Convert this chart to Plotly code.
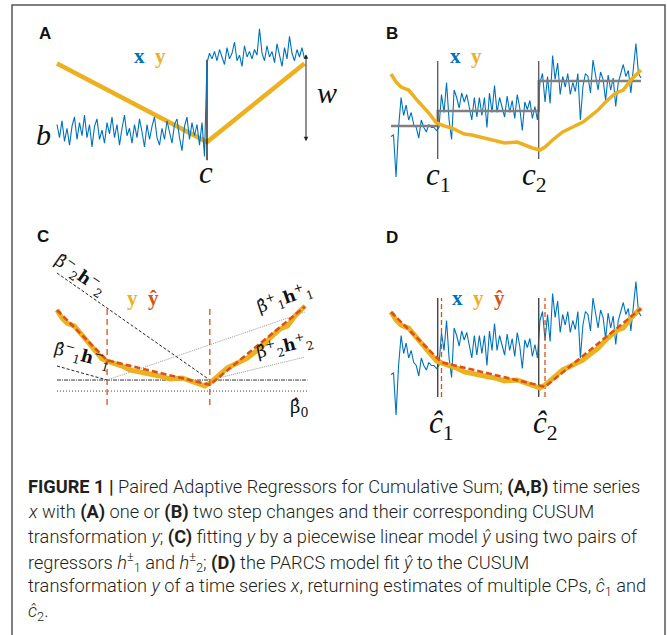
import plotly.graph_objects as go

W, H = 667, 635
BLUE = "#0072BD"
ORANGE = "#EDB120"
RED = "#D95319"
STEP_GRAY = "#808080"
SERIF = "Liberation Serif, DejaVu Serif, serif"
MATH = "DejaVu Serif, Liberation Serif, serif"
SANS = "Liberation Sans, Arial, sans-serif"
CAP_FONT = "Roboto, Liberation Sans, sans-serif"

# ---------------- data ----------------
# Panel A: series x with one step change, and its CUSUM y
xA_before = [0.4, -0.3, 0.6, -0.5, 0.2, -0.7, 0.3, 0.8, -0.4, 0.5,
             -0.2, 0.9, -0.3, 0.4, -0.8, 0.3, 0.7, -0.4, 0.1, -0.6,
             0.5, -0.1, 0.8, -0.3, 0.4, -0.7, 0.2, 0.9, -0.2, 0.2,
             -0.6, 0.4, -0.3, 0.7, 0.0, -0.8, 0.4, -0.4, 0.3, 0.8,
             -0.3, -0.7, 0.2, -0.4, 0.6, 0.0, -0.6, 0.4, 0.7, -0.3,
             -1.0, 0.3, 0.8, -0.4, 0.5, -0.2, 0.4, -0.7, 0.5, -1.3]
xA_after = [3.7, 4.2, 3.9, 4.3, 3.8, 4.4, 4.0, 3.6, 4.5, 3.9,
            4.2, 4.8, 3.8, 4.1, 3.5, 4.6, 4.0, 4.3, 3.9, 4.4,
            4.1, 5.5, 4.2, 3.8, 4.6, 4.0, 4.3, 3.7, 4.7, 4.1,
            3.5, 4.5, 3.9, 5.1, 4.2, 3.8, 4.4, 4.0, 4.5, 3.9]
cA = 60
yA_t = [0, 60, 99]
yA = [0, -96, 0]

# Panels B / D: series x with two step changes, and its CUSUM y
xB_seg1 = [-0.7, -0.6, -3.4, -0.1, 1.9, 0.7, 1.4, 0.4, 0.9, 0.1,
           -0.1, -0.8, 0.4, -0.1, -0.4, 0.1, -0.1, -0.1, -0.3]
xB_seg2 = [-0.1, 2.1, 0.9, 2.9, 0.4, -0.9, 2.4, 1.9, 1.2, 2.2,
           1.6, 2.1, 1.3, 0.4, 1.9, 0.6, 1.9, 0.7, 1.9, -0.1,
           2.2, 0.9, 2.7, 0.9, 1.9, 1.3, 0.6, 2.0, 0.9, 1.7,
           0.5, 2.1, 1.2, -0.3, 1.6, 1.1, 1.7, 0.5, 1.3, 0.4]
xB_seg3 = [2.9, 3.5, 1.6, 3.3, 1.5, 4.7, 3.1, 4.2, 2.1, 3.3,
           2.6, 3.5, 2.1, 2.9, 2.3, 3.5, 0.4, 2.6, 3.5, 3.3,
           2.2, 4.4, 3.3, 2.4, 3.6, 3.1, 1.7, 3.4, 2.4, 3.2,
           1.3, 2.9, 3.5, 4.1, 3.3, 3.7, 2.2, 4.0, 5.5, 3.5, 3.2]
cB = [18.5, 58.5]
step_t = [0, 18.5, 58.5, 99]
step_levels = [0, 1, 3, 3]
yB_t = [0, 2, 4, 7, 11, 15, 18, 21, 24, 26, 29, 32, 37, 41, 45, 50,
        53, 56, 59, 61, 64, 68, 72, 76, 78, 82, 85, 89, 92, 95, 99]
yB = [0, -5.9, -9.6, -11.8, -20.6, -28.7, -36, -38.2, -39.7, -41.2,
      -44.1, -44.9, -47.1, -48.5, -50.7, -50, -52.2, -54.4, -55.9, -53.7,
      -48.5, -42.6, -39, -35.3, -32.4, -26.5, -20.6, -14, -11.8, -4.4, 2.9]

# Panels C / D: piecewise linear fit and its regressors
c_hat = [20, 61]
yhat_t = [0, 20, 61, 99]
yhat = [0, -37, -55, 2.5]
beta0 = -51.5
lower_level = -59.6
reg_h1_minus = [-41.2, -51.5]   # t from 0 to c_hat[0]
reg_h2_minus = [27.2, -51.5]    # t from 0 to c_hat[1]
reg_h1_plus = [-51.5, -1.5]     # t from c_hat[0] to end
reg_h2_plus = [-51.5, -34.6]    # t from c_hat[1] to end

xA = xA_before + xA_after
xB = xB_seg1 + xB_seg2 + xB_seg3
tA = list(range(len(xA)))
tB = list(range(len(xB)))
t_end = tB[-1]


# ---------------- axes geometry (pixel calibration) ----------------
def xcfg(box, cal, anchor):
    L, R, T, B = box
    a, b = cal
    return dict(domain=[L / W, R / W], range=[(L - a) / b, (R - a) / b],
                anchor=anchor, visible=False, showgrid=False, zeroline=False, fixedrange=True)


def ycfg(box, cal, anchor, overlaying=None):
    L, R, T, B = box
    c, d = cal
    cfg = dict(range=[(c - B) / d, (c - T) / d], anchor=anchor,
               visible=False, showgrid=False, zeroline=False, fixedrange=True)
    if overlaying:
        cfg["overlaying"] = overlaying
    else:
        cfg["domain"] = [1 - B / H, 1 - T / H]
    return cfg


boxA = (15, 340, 10, 210)
boxB = (345, 662, 10, 210)
boxC = (15, 340, 215, 445)
boxD = (345, 662, 215, 445)

axes = {
    "xaxis": xcfg(boxA, (57.0, 2.5), "y"),
    "yaxis": ycfg(boxA, (63.5, 0.818), "x"),
    "yaxis2": ycfg(boxA, (132.0, 18.75), "x", overlaying="y"),
    "xaxis2": xcfg(boxB, (391.0, 2.525), "y3"),
    "yaxis3": ycfg(boxB, (126.0, 15.0), "x2"),
    "yaxis4": ycfg(boxB, (74.0, 1.36), "x2", overlaying="y3"),
    "xaxis3": xcfg(boxC, (57.0, 2.505), "y5"),
    "yaxis5": ycfg(boxC, (310.0, 1.36), "x3"),
    "xaxis4": xcfg(boxD, (391.0, 2.525), "y6"),
    "yaxis6": ycfg(boxD, (364.0, 15.0), "x4"),
    "yaxis7": ycfg(boxD, (312.0, 1.36), "x4", overlaying="y6"),
}

fig = go.Figure()


def line(x, y, xa, ya, color, width, dash="solid", shape="linear"):
    fig.add_trace(go.Scatter(x=x, y=y, xaxis=xa, yaxis=ya, mode="lines",
                             line=dict(color=color, width=width, dash=dash, shape=shape),
                             hoverinfo="skip", showlegend=False))


# ---- Panel A ----
line(yA_t, yA, "x", "y", ORANGE, 4.5)
line([cA, cA], [-1.5, 3.85], "x", "y2", "#222222", 1.4)
line(tA, xA, "x", "y2", BLUE, 1.1)

# ---- Panel B ----
line(tB, xB, "x2", "y3", BLUE, 1.1)
line(step_t, step_levels, "x2", "y3", STEP_GRAY, 2.4, shape="hv")
for c in cB:
    line([c, c], [-2.2, 4.33], "x2", "y3", "#555555", 1.3)
line(yB_t, yB, "x2", "y4", ORANGE, 3.5)

# ---- Panel C ----
line([0, t_end + 1], [beta0, beta0], "x3", "y5", "#333333", 1.0, dash="4px,1px,1px,1px")
line([0, t_end + 1], [lower_level, lower_level], "x3", "y5", "#444444", 1.0, dash="1px,2px")
line([0, c_hat[1]], reg_h2_minus, "x3", "y5", "#222222", 1.0, dash="3px,2px")
line([0, c_hat[0]], reg_h1_minus, "x3", "y5", "#222222", 1.0, dash="3px,2px")
line([c_hat[0], t_end], reg_h1_plus, "x3", "y5", "#9a9a9a", 1.0, dash="1px,1px")
line([c_hat[1], t_end], reg_h2_plus, "x3", "y5", "#9a9a9a", 1.0, dash="1px,1px")
line(yB_t, yB, "x3", "y5", ORANGE, 5)
line(yhat_t, yhat, "x3", "y5", RED, 2.6, dash="6px,3px")
for c in c_hat:
    line([c, c], [-69.9, 2.2], "x3", "y5", RED, 1.3, dash="6px,4px")

# ---- Panel D ----
line(tB, xB, "x4", "y6", BLUE, 1.1)
for c in cB:
    line([c, c], [-2.2, 4.4], "x4", "y6", "#444444", 1.4)
for c in c_hat:
    line([c, c], [-2.2, 4.4], "x4", "y6", RED, 1.3, dash="5px,3px")
line(yB_t, yB, "x4", "y7", ORANGE, 5)
line(yhat_t, yhat, "x4", "y7", RED, 2.6, dash="6px,3px")

# ---------------- annotations ----------------
anns = []


def P(xp, yp):
    return xp / W, 1 - yp / H


def txt(text, xp, yp, size, family=SERIF, color="#111111", angle=0, xanchor="center", weight=None):
    x, y = P(xp, yp)
    f = dict(family=family, size=size, color=color)
    if weight:
        f["weight"] = weight
    anns.append(dict(text=text, x=x, y=y, xref="paper", yref="paper", showarrow=False,
                     xanchor=xanchor, yanchor="middle", textangle=angle, font=f))


def col(t, c):
    return f"<span style='color:{c}'>{t}</span>"


BH = "β\u0302"  # beta with hat

for letter, (xp, yp) in {"A": (45, 33), "B": (392, 33), "C": (43, 236), "D": (392, 237)}.items():
    txt(f"<b>{letter}</b>", xp, yp, 17, family=SANS, color="#111111")

# A
txt("<b>" + col("x", BLUE) + "  " + col("y", ORANGE) + "</b>", 150, 56, 21)
txt("<i>b</i>", 43, 134, 30)
txt("<i>c</i>", 206, 172, 31)
txt("<i>w</i>", 327, 93, 30)
anns.append(dict(x=99.6, y=-95, xref="x", yref="y", ax=99.6, ay=13, axref="x", ayref="y",
                 text="", showarrow=True, arrowhead=2, arrowsize=0.9, arrowwidth=1,
                 arrowside="end+start", arrowcolor="#222222"))

# B
txt("<b>" + col("x", BLUE) + "  " + col("y", ORANGE) + "</b>", 466, 56, 21)
txt("<i>c</i><sub>1</sub>", 438, 177, 31)
txt("<i>c</i><sub>2</sub>", 534, 177, 31)

# C
txt("<b>" + col("y", ORANGE) + "  " + col("ŷ", RED) + "</b>", 143, 298, 21)
txt(f"{BH}<sup>−</sup><sub>2</sub><b>h</b><sup>−</sup><sub>2</sub>", 80, 274, 17, family=MATH, angle=35)
txt(f"{BH}<sup>−</sup><sub>1</sub><b>h</b><sup>−</sup><sub>1</sub>", 82, 355, 17, family=MATH, angle=15)
txt(f"{BH}<sup>+</sup><sub>1</sub><b>h</b><sup>+</sup><sub>1</sub>", 284, 298, 17, family=MATH, angle=-19)
txt(f"{BH}<sup>+</sup><sub>2</sub><b>h</b><sup>+</sup><sub>2</sub>", 284, 346, 17, family=MATH, angle=-13)
txt(f"{BH}<sub>0</sub>", 299, 408, 18, family=MATH)

# D
txt("<b>" + col("x", BLUE) + "  " + col("y", ORANGE) + "  " + col("ŷ", RED) + "</b>", 478, 298, 21)
txt("<i>ĉ</i><sub>1</sub>", 441, 425, 31)
txt("<i>ĉ</i><sub>2</sub>", 545, 425, 31)

# caption
caption = [
    "<b>FIGURE 1 |</b> Paired Adaptive Regressors for Cumulative Sum; <b>(A,B)</b> time series",
    "<i>x</i> with <b>(A)</b> one or <b>(B)</b> two step changes and their corresponding CUSUM",
    "transformation <i>y</i>; <b>(C)</b> fitting <i>y</i> by a piecewise linear model <i>ŷ</i> using two pairs of",
    "regressors <i>h</i><sup>±</sup><sub>1</sub> and <i>h</i><sup>±</sup><sub>2</sub>; <b>(D)</b> the PARCS model fit <i>ŷ</i> to the CUSUM",
    "transformation <i>y</i> of a time series <i>x</i>, returning estimates of multiple CPs, <i>ĉ</i><sub>1</sub> and",
    "<i>ĉ</i><sub>2</sub>.",
]
for k, ln in enumerate(caption):
    txt(ln, 26, 487 + 25 * k, 18.2, family=CAP_FONT, color="#231F20", xanchor="left", weight=300)

# frame
shapes = [dict(type="rect", xref="paper", yref="paper", x0=12 / W, x1=665 / W,
               y0=1 - 660 / H, y1=1 - 5 / H, line=dict(color="#555555", width=1.5))]

fig.update_layout(width=W, height=H, autosize=False, margin=dict(l=0, r=0, t=0, b=0),
                  paper_bgcolor="white", plot_bgcolor="rgba(0,0,0,0)",
                  showlegend=False, annotations=anns, shapes=shapes, **axes)

fig.write_html("out.html", config={"displayModeBar": False},
               post_script="document.body.style.margin='0';document.body.style.overflow='hidden';")
